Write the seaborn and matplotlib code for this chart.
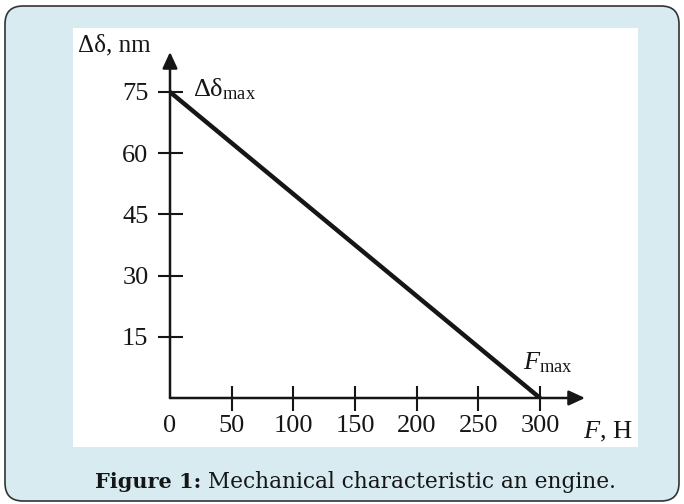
import matplotlib
matplotlib.use("Agg")
import matplotlib.pyplot as plt
import seaborn as sns
from matplotlib.patches import FancyBboxPatch, Rectangle
from matplotlib.transforms import IdentityTransform

# Data: mechanical characteristic (force vs. deflection)
force = [0, 300]
deflection = [75, 0]
x_ticks = [0, 50, 100, 150, 200, 250, 300]
y_ticks = [15, 30, 45, 60, 75]

sns.set_style("white")
plt.rcParams['font.family'] = ['Liberation Serif', 'DejaVu Serif']
plt.rcParams['mathtext.fontset'] = 'custom'
plt.rcParams['mathtext.rm'] = 'Liberation Serif'
plt.rcParams['mathtext.it'] = 'Liberation Serif:italic'

ink = '#161616'
fig = plt.figure(figsize=(6.84, 5.04), dpi=100)
fig.patch.set_facecolor('white')

# light blue rounded frame + white panel (pixel coords, origin bottom-left)
frame = FancyBboxPatch((5, 3), 674, 495, boxstyle="round,pad=0,rounding_size=18",
                       transform=IdentityTransform(), facecolor='#d7ebf1',
                       edgecolor='#333333', lw=1.2, zorder=-2)
fig.patches.append(frame)
panel = Rectangle((73, 504 - 447), 565, 419, transform=IdentityTransform(),
                  facecolor='white', edgecolor='none', zorder=-1)
fig.patches.append(panel)

ax = fig.add_axes([170 / 684, 106 / 504, 415 / 684, 346 / 504])
ax.set_zorder(2)
ax.patch.set_alpha(0)
sns.lineplot(x=force, y=deflection, ax=ax, color=ink, lw=3.2)
ax.set_xlim(0, 300 * 415 / 370)
ax.set_ylim(0, 75 * 346 / 306)

for s in ax.spines.values():
    s.set_visible(False)

arrow = dict(arrowstyle='-|>,head_length=0.65,head_width=0.3', lw=1.8, color=ink,
             mutation_scale=15, shrinkA=0, shrinkB=0)
ax.annotate('', xy=(1, 0), xytext=(0, 0), xycoords='axes fraction', arrowprops=arrow)
ax.annotate('', xy=(0, 1), xytext=(0, 0), xycoords='axes fraction', arrowprops=arrow)

ax.set_xticks(x_ticks)
ax.set_yticks(y_ticks)
ax.tick_params(axis='both', direction='inout', length=18, width=1.5, color=ink,
               labelsize=19, labelcolor=ink, bottom=True, left=True)
ax.tick_params(axis='y', pad=6.5)
ax.tick_params(axis='x', pad=3)
ax.xaxis.get_major_ticks()[0].tick1line.set_visible(False)

ax.text(-75, 86.5, 'Δδ, nm', fontsize=18, ha='left', va='center', color=ink, clip_on=False)
ax.text(18.6, 73.8, r'$\mathrm{Δδ}_{\mathrm{max}}$', fontsize=19, ha='left', va='baseline', color=ink)
ax.text(286, 6.9, r'$F_{\mathrm{max}}$', fontsize=19, ha='left', va='baseline', color=ink)
ax.text(335, -9.8, r'$F$, H', fontsize=19, ha='left', va='baseline', color=ink, clip_on=False)

# caption
cap = fig.text(95 / 684, (504 - 488) / 504, 'Figure 1:', fontsize=15, weight='bold',
               family='DejaVu Serif', va='baseline', color=ink)
rest = fig.text(0, 0, ' Mechanical characteristic an engine.', fontsize=15.6,
                family='DejaVu Serif', va='baseline', color=ink)
fig.canvas.draw()
bb = cap.get_window_extent()
rest.set_transform(IdentityTransform())
rest.set_position((bb.x1, 504 - 488))

fig.savefig('out.png', dpi=100)
